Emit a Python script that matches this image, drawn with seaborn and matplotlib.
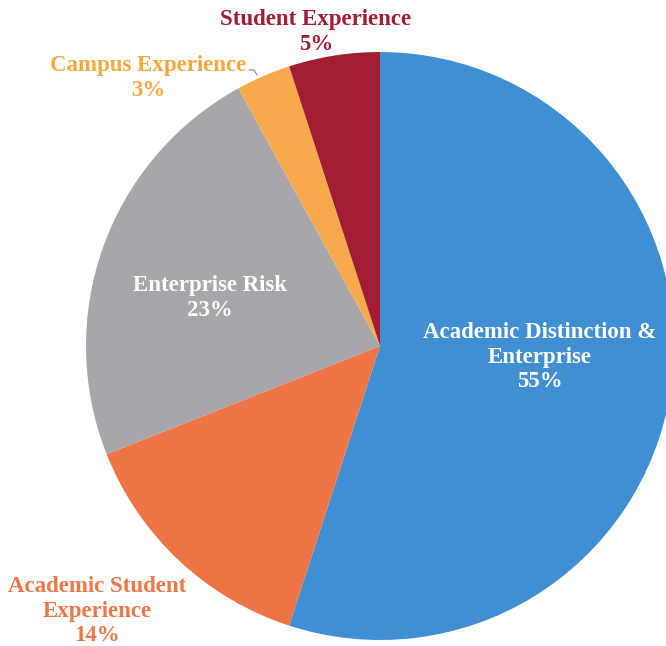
import matplotlib
matplotlib.use("Agg")
import matplotlib.pyplot as plt
import seaborn as sns

labels = ["Academic Distinction &\nEnterprise", "Academic Student\nExperience",
          "Enterprise Risk", "Campus Experience", "Student Experience"]
values = [55, 14, 23, 3, 5]
colors = ["#3f8fd2", "#ef7547", "#a8a6aa", "#f8a94b", "#a21d33"]

sns.set_style("white")
plt.rcParams['font.family'] = ['Liberation Serif', 'DejaVu Serif']

fig = plt.figure(figsize=(6.66, 6.46), dpi=100)
ax = fig.add_axes([0, 0, 1, 1])

# pie in pixel units so it can hang off the right edge like the scan
ax.pie(values, colors=colors, startangle=90, counterclock=False,
       center=(380, 300), radius=294, wedgeprops={'linewidth': 0})
ax.set_xlim(0, 666)
ax.set_ylim(0, 646)
ax.set_aspect('equal')
ax.axis('off')

fs = 16.5
ls = 1.22
ax.text(540, 289, f"{labels[0]}\n{values[0]}%", ha='center', va='center',
        color='white', fontsize=fs, fontweight='bold', linespacing=ls)
ax.text(97, 35, f"{labels[1]}\n{values[1]}%", ha='center', va='center',
        color='#ee7647', fontsize=fs, fontweight='bold', linespacing=ls)
ax.text(210, 348, f"{labels[2]}\n{values[2]}%", ha='center', va='center',
        color='white', fontsize=fs, fontweight='bold', linespacing=ls)
ax.text(148, 568, f"{labels[3]}\n{values[3]}%", ha='center', va='center',
        color='#f7a83c', fontsize=fs, fontweight='bold', linespacing=ls)
ax.text(316, 614, f"{labels[4]}\n{values[4]}%", ha='center', va='center',
        color='#a21d33', fontsize=fs, fontweight='bold', linespacing=ls)
ax.plot([249, 254, 257], [576, 576, 571], color='#888888', linewidth=0.8)

fig.savefig("out.png", dpi=100)
